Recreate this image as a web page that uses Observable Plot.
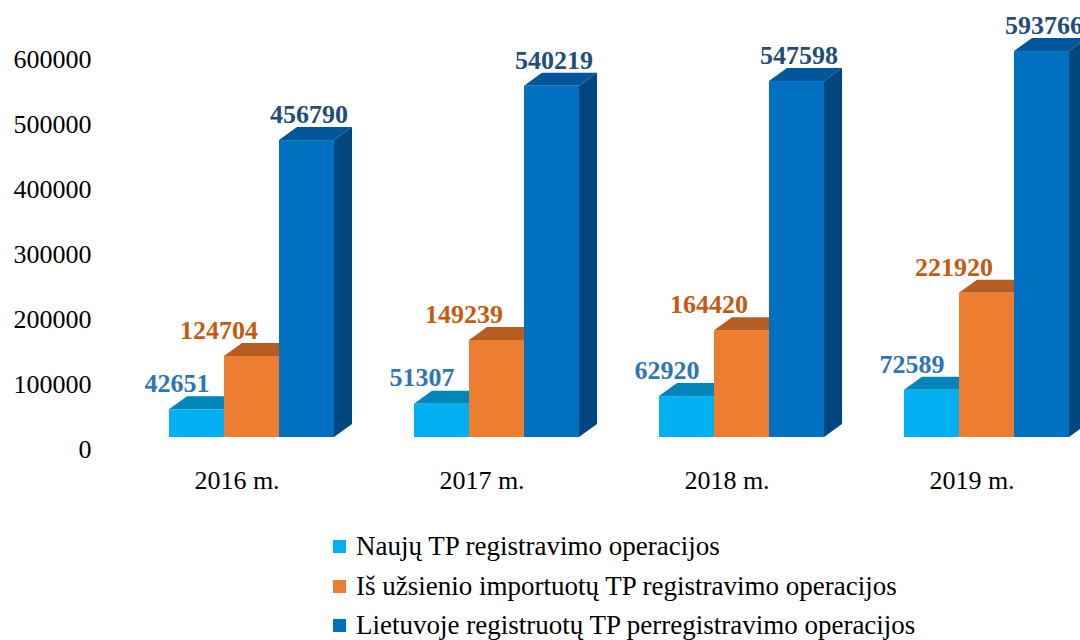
<!DOCTYPE html>
<html><head><meta charset="utf-8">
<script src="https://cdn.jsdelivr.net/npm/d3@7"></script>
<script src="https://cdn.jsdelivr.net/npm/@observablehq/plot@0.6"></script>
<style>
html,body{margin:0;padding:0;background:#fff;overflow:hidden;width:1080px;height:640px}
body{position:relative}
#chart{position:absolute;left:0;top:0}
#chart svg, #chart svg *, .legend, .legend *{font-family:'Liberation Serif', serif !important}
.legend{position:absolute;left:333px;top:527px;font-size:27px;color:#000}
.legend .row{display:flex;align-items:center;height:39.5px;white-space:nowrap}
.legend .sw{width:13px;height:13px;margin-right:10px;display:inline-block;flex:none}
</style></head><body>
<div id="chart"></div>
<div class="legend" id="legend"></div>
<script>
const years = ["2016 m.", "2017 m.", "2018 m.", "2019 m."];
const seriesNames = [
  "Naujų TP registravimo operacijos",
  "Iš užsienio importuotų TP registravimo operacijos",
  "Lietuvoje registruotų TP perregistravimo operacijos"
];
const naujos = [42651, 51307, 62920, 72589];
const importuotos = [124704, 149239, 164420, 221920];
const perregistruotos = [456790, 540219, 547598, 593766];
const yTicks = [0, 100000, 200000, 300000, 400000, 500000, 600000];

const colors = ["#00B0F0", "#ED7D31", "#0070C0"];
const topColors = ["#0086B8", "#B55D22", "#00569A"];
const sideColors = ["#00739E", "#9E501C", "#00467F"];
const labelColors = ["#2E75B6", "#C55A11", "#1F4E79"];
const FONT = "'Liberation Serif', serif";

const seriesValues = [naujos, importuotos, perregistruotos];
const rows = years.flatMap((year, i) => seriesNames.map((s, k) => ({year, series: s, k, value: seriesValues[k][i]})));

const DX = 18, DY = 13;
function prism(index, scales, values, dims, ctx, next) {
  const g = next(index, scales, values, dims, ctx);
  const ns = "http://www.w3.org/2000/svg";
  for (const r of Array.from(g.querySelectorAll("rect"))) {
    const x = +r.getAttribute("x"), y = +r.getAttribute("y");
    const w = +r.getAttribute("width"), h = +r.getAttribute("height");
    const fill = (r.getAttribute("fill") || "").toUpperCase();
    let k = colors.indexOf(fill);
    if (k < 0) k = 2;
    const top = document.createElementNS(ns, "polygon");
    top.setAttribute("points", `${x},${y} ${x + DX},${y - DY} ${x + w + DX},${y - DY} ${x + w},${y}`);
    top.setAttribute("fill", topColors[k]);
    const side = document.createElementNS(ns, "polygon");
    side.setAttribute("points", `${x + w},${y} ${x + w + DX},${y - DY} ${x + w + DX},${y + h - DY} ${x + w},${y + h}`);
    side.setAttribute("fill", sideColors[k]);
    r.before(top, side);
  }
  return g;
}

const labelShift = [-20, -33, 2];
const labelMarks = seriesNames.map((s, k) => Plot.text(rows.filter(d => d.k === k), {
  fx: "year", x: "series", y: "value", text: d => String(d.value),
  dy: -26, dx: labelShift[k], fill: labelColors[k], fontSize: 26, fontWeight: "bold", lineAnchor: "middle", fontFamily: FONT
}));

const chart = Plot.plot({
  width: 1080, height: 505,
  marginTop: 47, marginBottom: 68, marginLeft: 168, marginRight: 10,
  style: {fontFamily: FONT, background: "transparent", overflow: "visible"},
  fx: {domain: years, paddingInner: 0.3285, paddingOuter: 0, label: null},
  x: {domain: seriesNames, padding: 0, axis: null},
  y: {domain: [0, 600000]},
  color: {domain: seriesNames, range: colors},
  marks: [
    Plot.axisY({ticks: yTicks, tickSize: 0, tickPadding: 78, dy: 12, fontSize: 26, fill: "#000", fontFamily: FONT, tickFormat: d => String(d), label: null}),
    Plot.axisFx({anchor: "bottom", tickSize: 0, tickPadding: 33, dx: -15, fontSize: 26, fill: "#000", fontFamily: FONT, label: null}),
    Plot.barY(rows, {fx: "year", x: "series", y: "value", fill: "series", render: prism}),
    ...labelMarks
  ]
});
document.getElementById("chart").appendChild(chart);

const legend = document.getElementById("legend");
seriesNames.forEach((s, k) => {
  const row = document.createElement("div");
  row.className = "row";
  const sw = document.createElement("span");
  sw.className = "sw";
  sw.style.background = colors[k];
  row.appendChild(sw);
  row.appendChild(document.createTextNode(s));
  legend.appendChild(row);
});
</script>
</body></html>
